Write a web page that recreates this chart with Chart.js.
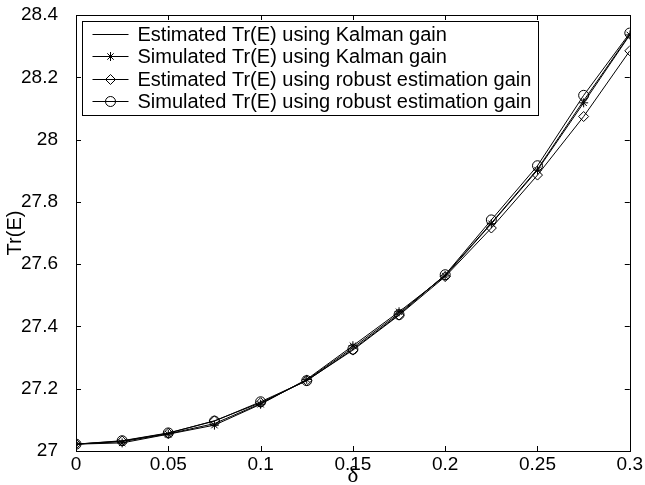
<!DOCTYPE html>
<html>
<head>
<meta charset="utf-8">
<script src="https://cdn.jsdelivr.net/npm/chart.js@4.4.0/dist/chart.umd.min.js"></script>
<style>
html, body { margin: 0; padding: 0; background: #fff; }
#wrap { width: 645px; height: 485px; }
</style>
</head>
<body>
<div id="wrap"><canvas id="trChart" width="645" height="485"></canvas></div>
<script>
// values
const deltas = [0, 0.025, 0.05, 0.075, 0.1, 0.125, 0.15, 0.175, 0.2, 0.225, 0.25, 0.275, 0.3];
const estKalman = [27.022, 27.030, 27.055, 27.088, 27.152, 27.228, 27.332, 27.442, 27.565, 27.732, 27.905, 28.125, 28.338];
const simKalman = [27.022, 27.026, 27.054, 27.083, 27.150, 27.230, 27.338, 27.447, 27.562, 27.730, 27.902, 28.118, 28.336];
const estRobust = [27.022, 27.032, 27.057, 27.097, 27.155, 27.226, 27.324, 27.436, 27.560, 27.716, 27.886, 28.074, 28.285];
const simRobust = [27.022, 27.033, 27.058, 27.096, 27.158, 27.226, 27.327, 27.438, 27.566, 27.742, 27.916, 28.142, 28.342];
const seriesNames = [
    'Estimated Tr(E) using Kalman gain',
    'Simulated Tr(E) using Kalman gain',
    'Estimated Tr(E) using robust estimation gain',
    'Simulated Tr(E) using robust estimation gain'
];
const xTicks = [0, 0.05, 0.1, 0.15, 0.2, 0.25, 0.3];
const yTicks = [27, 27.2, 27.4, 27.6, 27.8, 28, 28.2, 28.4];

const sansFont = '"Liberation Sans", Arial, sans-serif';

function toPoints(vals) {
    return deltas.map((d, i) => ({ x: d, y: vals[i] }));
}

function makeSet(label, vals, style, radius) {
    return {
        label: label,
        data: toPoints(vals),
        borderColor: '#000',
        borderWidth: 1,
        pointStyle: style,
        pointRadius: radius,
        pointBorderColor: '#000',
        pointBorderWidth: 1,
        pointBackgroundColor: 'rgba(0,0,0,0)',
        tension: 0,
        fill: false
    };
}

// inward tick marks on all four sides plus the closing box
const boxTicks = {
    id: 'boxTicks',
    afterDatasetsDraw(chart) {
        const { ctx, chartArea: a, scales } = chart;
        const len = 5;
        ctx.save();
        ctx.strokeStyle = '#000';
        ctx.lineWidth = 1;
        ctx.beginPath();
        xTicks.forEach(v => {
            const px = Math.round(scales.x.getPixelForValue(v)) + 0.5;
            ctx.moveTo(px, a.bottom); ctx.lineTo(px, a.bottom - len);
            ctx.moveTo(px, a.top); ctx.lineTo(px, a.top + len);
        });
        yTicks.forEach(v => {
            const py = Math.round(scales.y.getPixelForValue(v)) + 0.5;
            ctx.moveTo(a.left, py); ctx.lineTo(a.left + len, py);
            ctx.moveTo(a.right, py); ctx.lineTo(a.right - len, py);
        });
        ctx.stroke();
        ctx.strokeRect(Math.round(a.left) + 0.5, Math.round(a.top) + 0.5,
            Math.round(a.right - a.left), Math.round(a.bottom - a.top));
        ctx.restore();
    }
};

// legend box inside the top-left corner of the plot
const insideLegend = {
    id: 'insideLegend',
    afterDraw(chart) {
        const { ctx, chartArea } = chart;
        const sets = chart.data.datasets;
        ctx.save();
        ctx.font = '20px ' + sansFont;
        const rowH = 22.5;
        const sampleW = 36;
        const left = Math.round(chartArea.left + 6) + 0.5;
        const top = Math.round(chartArea.top + 6) + 0.5;
        const textW = Math.max(...sets.map(d => ctx.measureText(d.label).width));
        const w = Math.round(10 + sampleW + 9 + textW + 7);
        const h = 94;
        ctx.fillStyle = '#fff';
        ctx.fillRect(left, top, w, h);
        ctx.strokeStyle = '#000';
        ctx.lineWidth = 1;
        ctx.strokeRect(left, top, w, h);
        sets.forEach((d, i) => {
            const cy = Math.round(top + 12 + i * rowH) + 0.5;
            const x0 = left + 10;
            ctx.beginPath();
            ctx.moveTo(x0, cy);
            ctx.lineTo(x0 + sampleW, cy);
            ctx.stroke();
            if (d.pointRadius > 0) {
                ctx.fillStyle = 'rgba(0,0,0,0)';
                Chart.helpers.drawPoint(ctx, {
                    pointStyle: d.pointStyle,
                    radius: d.pointRadius,
                    rotation: 0,
                    borderWidth: 1
                }, x0 + sampleW / 2, cy);
            }
            ctx.fillStyle = '#000';
            ctx.textBaseline = 'middle';
            ctx.textAlign = 'left';
            ctx.fillText(d.label, x0 + sampleW + 9, cy + 1);
        });
        ctx.restore();
    }
};

const trCtx = document.getElementById('trChart').getContext('2d');
const trChart = new Chart(trCtx, {
    type: 'line',
    data: {
        datasets: [
            makeSet(seriesNames[0], estKalman, 'circle', 0),
            makeSet(seriesNames[1], simKalman, 'star', 4.5),
            makeSet(seriesNames[2], estRobust, 'rectRot', 5),
            makeSet(seriesNames[3], simRobust, 'circle', 5)
        ]
    },
    options: {
        responsive: false,
        animation: false,
        devicePixelRatio: 1,
        layout: {
            padding: { left: 0, right: 15, top: 15, bottom: 0 }
        },
        plugins: {
            legend: { display: false },
            tooltip: { enabled: false }
        },
        scales: {
            x: {
                type: 'linear',
                min: 0,
                max: 0.3,
                afterBuildTicks: s => { s.ticks = xTicks.map(v => ({ value: v })); },
                afterFit: s => { s.height = 34; },
                ticks: {
                    callback: v => String(v),
                    color: '#000',
                    font: { family: sansFont, size: 19 },
                    padding: 2,
                    maxRotation: 0,
                    autoSkip: false
                },
                grid: { display: false, drawTicks: false },
                border: { display: true, color: '#000', width: 1 },
                title: {
                    display: true,
                    text: 'δ',
                    color: '#000',
                    font: { family: '"Liberation Serif", "DejaVu Serif", serif', size: 23 },
                    padding: { top: 0, bottom: -5 }
                }
            },
            y: {
                type: 'linear',
                min: 27,
                max: 28.4,
                afterBuildTicks: s => { s.ticks = yTicks.map(v => ({ value: v })); },
                afterFit: s => { s.width = 76; },
                ticks: {
                    callback: v => String(v),
                    color: '#000',
                    font: { family: sansFont, size: 19 },
                    padding: 1,
                    autoSkip: false
                },
                // invisible tick marks only push the labels away from the axis
                grid: {
                    display: true,
                    drawOnChartArea: false,
                    drawTicks: true,
                    tickLength: 17,
                    color: 'rgba(0,0,0,0)',
                    tickColor: 'rgba(0,0,0,0)'
                },
                border: { display: true, color: '#000', width: 1 },
                title: {
                    display: true,
                    text: 'Tr(E)',
                    color: '#000',
                    font: { family: sansFont, size: 20 },
                    padding: { top: 3, bottom: 0 }
                }
            }
        }
    },
    plugins: [boxTicks, insideLegend]
});
</script>
</body>
</html>
